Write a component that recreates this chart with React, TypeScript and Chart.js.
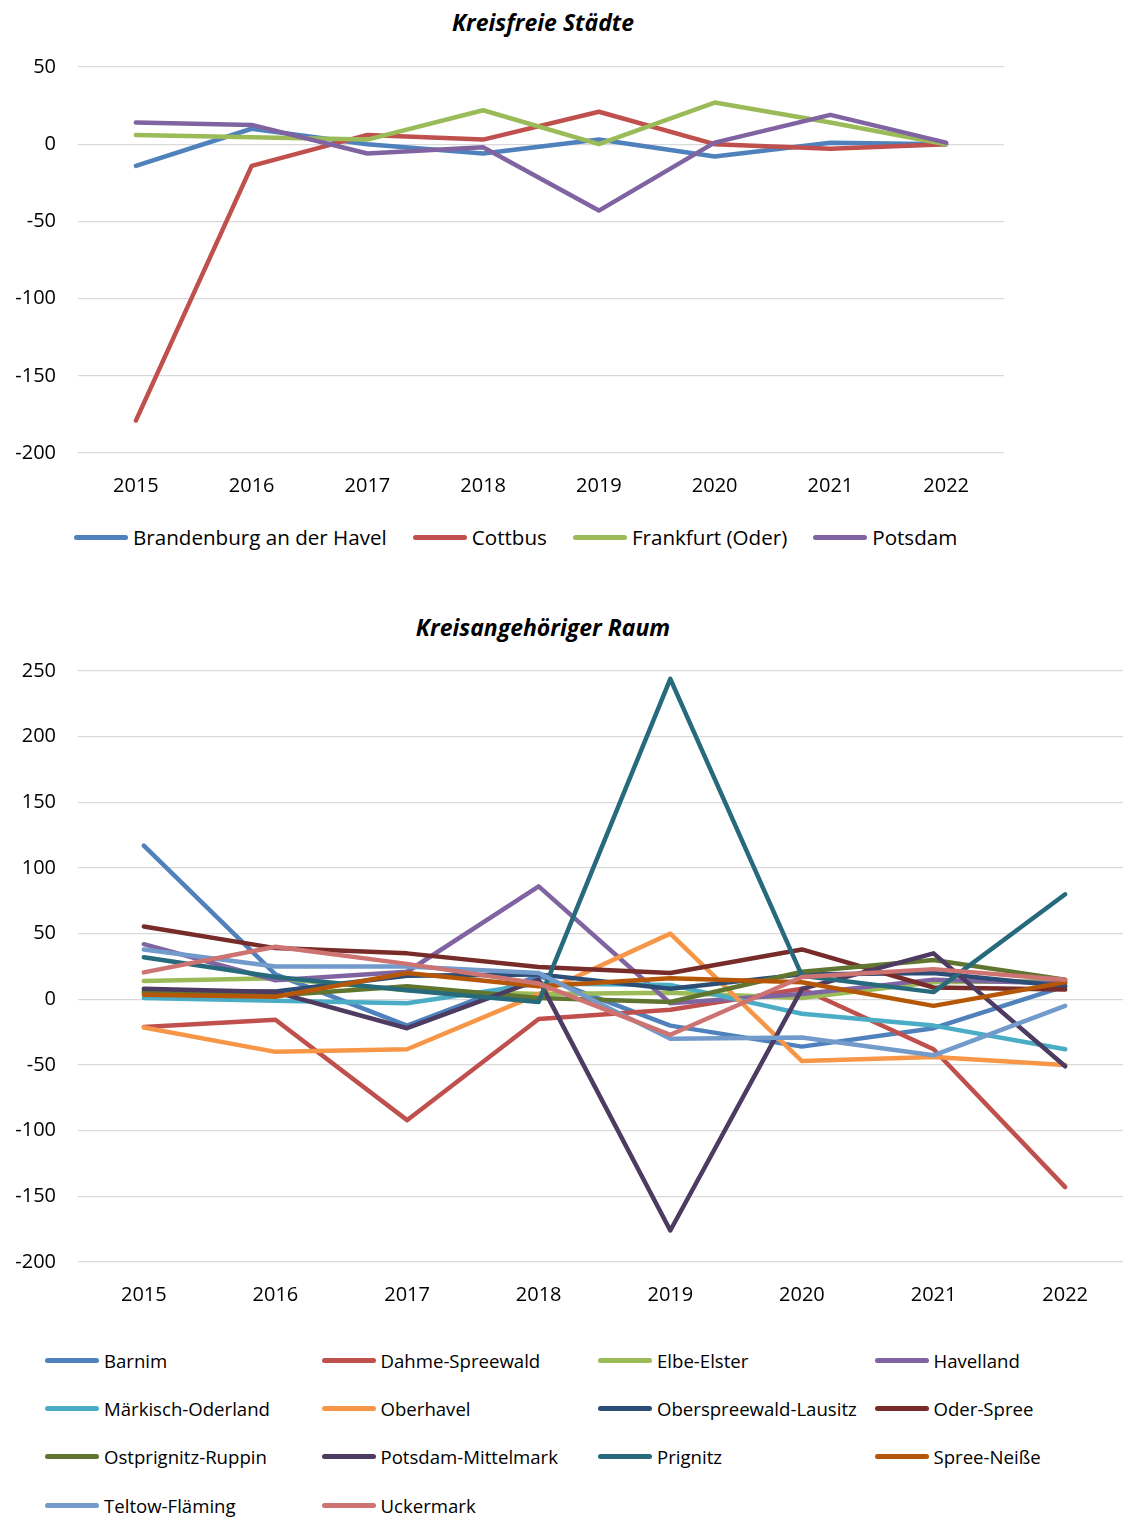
import React, { useEffect, useRef } from "react";
import { Chart, registerables } from "chart.js";

Chart.register(...registerables);

// ---------- data ----------
const years = ["2015", "2016", "2017", "2018", "2019", "2020", "2021", "2022"];

const title1 = "Kreisfreie Städte";
const title2 = "Kreisangehöriger Raum";

const brandenburg = [-14, 10, 0, -6, 3, -8, 1, 0];
const cottbus = [-179, -14, 6, 3, 21, 0, -3, 0];
const frankfurt = [6, 4.5, 3, 22, 0, 27, 14, 0];
const potsdam = [14, 12.5, -6, -2, -43, 1, 19, 1];

const barnim = [117, 19, -20, 18, -20, -36, -22, 10];
const dahme = [-21, -15.5, -92, -15, -8, 8, -38, -143];
const elbeElster = [14, 16, 7, 4, 5, 1, 13, 14];
const havelland = [42, 14.5, 21, 86, -3, 4, 15, 12];
const maerkisch = [1, -1, -3, 12, 11, -11, -20, -38];
const oberhavel = [-21.5, -40, -38, 4, 50, -47, -44, -50];
const oberspreewald = [6, 6, 18, 19, 8, 19, 20, 10];
const oderSpree = [55.5, 39, 35, 24.6, 20, 38, 9, 7.5];
const ostprignitz = [5, 3, 10, 1, -2, 21, 30, 15];
const potsdamMittelmark = [8, 5.5, -22, 15, -176, 8, 35, -51];
const prignitz = [32, 17, 7, -2, 244, 18, 5.5, 80];
const spreeNeisse = [3.5, 2, 20, 10, 16, 13, -5, 13];
const teltow = [38, 25, 25, 20, -30, -29, -42.6, -5];
const uckermark = [20.5, 40, 27, 12, -27, 17, 23, 15];

const names1 = ["Brandenburg an der Havel", "Cottbus", "Frankfurt (Oder)", "Potsdam"];
const values1 = [brandenburg, cottbus, frankfurt, potsdam];
const colors1 = ["#4F81BD", "#C0504D", "#9BBB59", "#8064A2"];

const names2 = [
  "Barnim", "Dahme-Spreewald", "Elbe-Elster", "Havelland",
  "Märkisch-Oderland", "Oberhavel", "Oberspreewald-Lausitz", "Oder-Spree",
  "Ostprignitz-Ruppin", "Potsdam-Mittelmark", "Prignitz", "Spree-Neiße",
  "Teltow-Fläming", "Uckermark",
];
const values2 = [
  barnim, dahme, elbeElster, havelland,
  maerkisch, oberhavel, oberspreewald, oderSpree,
  ostprignitz, potsdamMittelmark, prignitz, spreeNeisse,
  teltow, uckermark,
];
const colors2 = [
  "#4F81BD", "#C0504D", "#9BBB59", "#8064A2",
  "#4BACC6", "#F79646", "#2C4D75", "#772C2A",
  "#5F7530", "#4D3B62", "#276A7C", "#B65708",
  "#729ACA", "#CD7371",
];

const yTicks1 = { min: -200, max: 50, step: 50 };
const yTicks2 = { min: -200, max: 250, step: 50 };

// ---------- style ----------
const FONT = "'Open Sans', 'Noto Sans', sans-serif";
const TICK_SIZE = 20;

type ChartProps = {
  names: string[];
  values: number[][];
  colors: string[];
  range: { min: number; max: number; step: number };
  top: number;
  width: number;
  height: number;
  padding: { left: number; right: number; top: number; bottom: number };
  xAxisHeight: number;
  yAxisWidth: number;
};

function LineChart(p: ChartProps) {
  const ref = useRef<HTMLCanvasElement | null>(null);
  useEffect(() => {
    if (!ref.current) return;
    const n = p.names.length;
    const chart = new Chart(ref.current, {
      type: "line",
      data: {
        labels: years,
        datasets: p.names.map((name, i) => ({
          label: name,
          data: p.values[i],
          borderColor: p.colors[i],
          backgroundColor: p.colors[i],
          borderWidth: 4.5,
          pointRadius: 0,
          pointHoverRadius: 0,
          tension: 0,
          fill: false,
          borderCapStyle: "round" as const,
          borderJoinStyle: "round" as const,
          order: n - i,
        })),
      },
      options: {
        animation: false,
        responsive: false,
        maintainAspectRatio: false,
        devicePixelRatio: 1,
        layout: { padding: p.padding },
        plugins: {
          legend: { display: false },
          title: { display: false },
          tooltip: { enabled: false },
        },
        scales: {
          x: {
            type: "category",
            offset: true,
            grid: { display: false, drawTicks: false },
            border: { display: false },
            ticks: {
              padding: 21,
              color: "#000",
              font: { family: FONT, size: TICK_SIZE },
              maxRotation: 0,
              autoSkip: false,
            },
            afterFit: (s: any) => {
              s.height = p.xAxisHeight;
            },
          },
          y: {
            min: p.range.min,
            max: p.range.max,
            grid: { color: "#D9D9D9", lineWidth: 1.3, drawTicks: false },
            border: { display: false },
            ticks: {
              stepSize: p.range.step,
              padding: 22,
              color: "#000",
              font: { family: FONT, size: TICK_SIZE },
            },
            afterFit: (s: any) => {
              s.width = p.yAxisWidth;
            },
          },
        },
      },
    });
    return () => chart.destroy();
  }, []);
  return (
    <canvas
      ref={ref}
      width={p.width}
      height={p.height}
      style={{ position: "absolute", left: 0, top: p.top, width: p.width, height: p.height }}
    />
  );
}

function LegendLine({ color }: { color: string }) {
  return (
    <span
      style={{
        display: "inline-block",
        width: 54,
        height: 5,
        borderRadius: 3,
        background: color,
        marginRight: 5,
        flex: "0 0 auto",
      }}
    />
  );
}

function Title({ text, y }: { text: string; y: number }) {
  return (
    <div
      style={{
        position: "absolute",
        left: 0,
        width: 1086,
        top: y - 16,
        height: 32,
        lineHeight: "32px",
        textAlign: "center",
        fontFamily: FONT,
        fontWeight: 700,
        fontStyle: "italic",
        fontSize: 23,
        color: "#000",
      }}
    >
      {text}
    </div>
  );
}

export default function App() {
  const textStyle = (size: number): React.CSSProperties => ({
    fontFamily: FONT,
    fontSize: size,
    color: "#000",
    whiteSpace: "nowrap",
  });
  return (
    <div
      style={{
        position: "absolute",
        left: 0,
        top: 0,
        width: 1123,
        height: 1517,
        background: "#fff",
        overflow: "hidden",
      }}
    >
      <Title text={title1} y={22} />
      <LineChart
        names={names1}
        values={values1}
        colors={colors1}
        range={yTicks1}
        top={0}
        width={1123}
        height={500}
        padding={{ left: 0, right: 119, top: 67, bottom: 0 }}
        xAxisHeight={47}
        yAxisWidth={78}
      />
      <div
        style={{
          position: "absolute",
          left: 74,
          top: 522,
          height: 30,
          display: "flex",
          alignItems: "center",
          gap: 26,
        }}
      >
        {names1.map((n, i) => (
          <div key={n} style={{ display: "flex", alignItems: "center", ...textStyle(20.6) }}>
            <LegendLine color={colors1[i]} />
            <span>{n}</span>
          </div>
        ))}
      </div>

      <Title text={title2} y={627} />
      <LineChart
        names={names2}
        values={values2}
        colors={colors2}
        range={yTicks2}
        top={600}
        width={1140}
        height={720}
        padding={{ left: 0, right: 9, top: 71, bottom: 0 }}
        xAxisHeight={58}
        yAxisWidth={78}
      />
      <div
        style={{
          position: "absolute",
          left: 45,
          top: 1336,
          display: "grid",
          gridTemplateColumns: "repeat(4, 276.5px)",
          gridAutoRows: "48.3px",
        }}
      >
        {names2.map((n, i) => (
          <div key={n} style={{ display: "flex", alignItems: "center", ...textStyle(18.6) }}>
            <LegendLine color={colors2[i]} />
            <span>{n}</span>
          </div>
        ))}
      </div>
    </div>
  );
}
